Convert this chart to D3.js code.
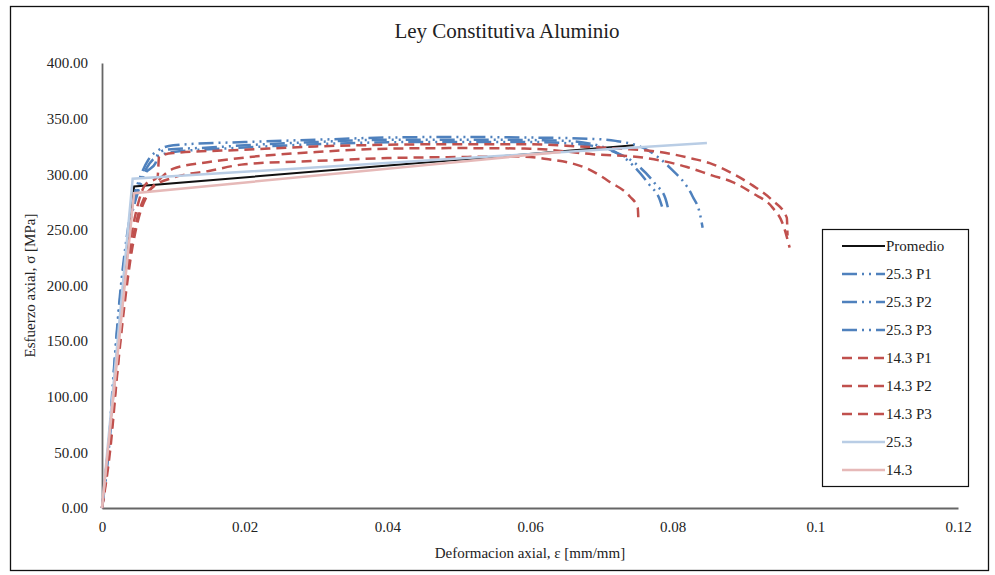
<!DOCTYPE html>
<html>
<head>
<meta charset="utf-8">
<title>Ley Constitutiva Aluminio</title>
<style>
  body { margin:0; background:#fff; }
  text { font-family:"Liberation Serif","Times New Roman",serif; fill:#222; }
</style>
</head>
<body>
<div id="chart"></div>
<script src="https://cdn.jsdelivr.net/npm/d3@7/dist/d3.min.js"></script>
<script>
// strain [mm/mm], stress [MPa]
var promedio = [[0,0],[0.0045,289],[0.0746,326]];

var b253p1 = [[0,0],[0.0008,45],[0.0015,110],[0.0025,190],[0.0035,245],[0.0045,280],[0.0055,300],[0.0065,313],[0.008,322],[0.01,326],[0.02,329],[0.03,331],[0.04,333],[0.05,333.5],[0.06,333],[0.068,332],[0.072,330],[0.0764,322],[0.0796,306],[0.0828,280],[0.0838,265],[0.0842,252]];
var b253p2 = [[0,0],[0.001,60],[0.002,150],[0.003,215],[0.004,258],[0.005,283],[0.006,300],[0.0075,310],[0.0078,318],[0.009,322],[0.015,324],[0.02,326],[0.03,329],[0.04,331],[0.055,331],[0.065,330],[0.07,325],[0.0736,313],[0.0768,290],[0.0782,277],[0.0785,271]];
var b253p3 = [[0,0],[0.0012,70],[0.0022,160],[0.0032,225],[0.0042,265],[0.0052,290],[0.0062,305],[0.0075,315],[0.01,320],[0.02,324],[0.03,327],[0.045,329],[0.06,329],[0.067,327],[0.071,322],[0.0745,311],[0.0776,291],[0.079,278],[0.0794,268]];

var r143p1 = [[0,0],[0.001,50],[0.002,115],[0.003,180],[0.004,230],[0.005,262],[0.006,280],[0.0075,290],[0.01,297],[0.015,303],[0.02,309],[0.03,312],[0.04,314.5],[0.05,315.5],[0.058,316],[0.062,314],[0.0684,304],[0.0712,293],[0.074,280],[0.0751,270],[0.0752,258]];
var r143p2 = [[0,0],[0.001,55],[0.002,125],[0.003,190],[0.004,240],[0.005,272],[0.006,290],[0.0078,298],[0.008,316],[0.01,319],[0.02,322],[0.03,325],[0.04,326.5],[0.05,327],[0.06,327],[0.067,325],[0.0725,323],[0.0782,320],[0.0828,314],[0.0852,310],[0.0883,301],[0.0912,290],[0.0939,277],[0.096,261],[0.0961,245]];
var r143p3 = [[0,0],[0.0012,55],[0.0022,125],[0.0032,185],[0.0042,232],[0.0052,262],[0.0065,283],[0.008,295],[0.01,305],[0.015,311],[0.02,315],[0.03,320],[0.04,323],[0.05,323.5],[0.06,323],[0.0688,318],[0.0758,315],[0.082,306.5],[0.0855,299],[0.0884,293],[0.0912,283],[0.094,270],[0.0954,256],[0.0964,234]];

var avg253 = [[0,0],[0.0043,296],[0.0848,328]];
var avg143 = [[0,0],[0.0045,283],[0.0643,320]];

var seriesNames = ["Promedio","25.3 P1","25.3 P2","25.3 P3","14.3 P1","14.3 P2","14.3 P3","25.3","14.3"];
var xTicks = [0,0.02,0.04,0.06,0.08,0.1,0.12];
var yTicks = [0,50,100,150,200,250,300,350,400];

var width = 995, height = 575;
var margin = {left:102, right:37, top:63, bottom:67};

var svg = d3.select('#chart').append('svg')
    .attr('width', width).attr('height', height);

// outer frame
svg.append('rect').attr('x',10.5).attr('y',6.5).attr('width',978).attr('height',564)
    .attr('fill','#fff').attr('stroke','#111').attr('stroke-width',1.3);

var x = d3.scaleLinear().domain([0,0.12]).range([margin.left, width-margin.right]);
var y = d3.scaleLinear().domain([0,400]).range([height-margin.bottom, margin.top]);

// axes
var yAxis = svg.append('g').attr('transform','translate('+margin.left+',0)')
    .call(d3.axisLeft(y).tickValues(yTicks).tickFormat(d3.format('.2f')).tickSize(0).tickPadding(14));
var xAxis = svg.append('g').attr('transform','translate(0,'+(height-margin.bottom)+')')
    .call(d3.axisBottom(x).tickValues(xTicks).tickFormat(d=>d===0?'0':String(+d.toFixed(2))).tickSize(0).tickPadding(13));
[yAxis, xAxis].forEach(function(g){
    g.selectAll('path').attr('stroke','#666').attr('stroke-width',1.8);
    g.selectAll('text').style('font-family','"Liberation Serif",serif').style('font-size','15px').attr('fill','#222');
});

var line = d3.line().x(d=>x(d[0])).y(d=>y(d[1]));
var curve = d3.line().x(d=>x(d[0])).y(d=>y(d[1])).curve(d3.curveMonotoneX);

var dashDot = '15,5,2,5,2,5', dashed = '10,6';
var styles = [
    {data:promedio, color:'#111', dash:null, w:2, fn:line},
    {data:b253p1, color:'#4F81BD', dash:dashDot, w:2.5, fn:curve},
    {data:b253p2, color:'#4F81BD', dash:dashDot, w:2.5, fn:curve},
    {data:b253p3, color:'#4F81BD', dash:dashDot, w:2.5, fn:curve},
    {data:r143p1, color:'#C0504D', dash:dashed, w:2.5, fn:curve},
    {data:r143p2, color:'#C0504D', dash:dashed, w:2.5, fn:curve},
    {data:r143p3, color:'#C0504D', dash:dashed, w:2.5, fn:curve},
    {data:avg253, color:'#B9CDE5', dash:null, w:2.5, fn:line},
    {data:avg143, color:'#E6B9B8', dash:null, w:2.5, fn:line}
];

svg.append('g').selectAll('path').data(styles).enter().append('path')
    .attr('d', d=>d.fn(d.data))
    .attr('fill','none')
    .attr('stroke', d=>d.color)
    .attr('stroke-width', d=>d.w)
    .attr('stroke-dasharray', d=>d.dash);

// title + axis titles
svg.append('text').attr('x',507).attr('y',38).attr('text-anchor','middle')
    .style('font-size','21px').text('Ley Constitutiva Aluminio');
svg.append('text').attr('x',(margin.left+width-margin.right)/2).attr('y',558).attr('text-anchor','middle')
    .style('font-size','15px').text('Deformacion axial,  \u03b5 [mm/mm]');
svg.append('text').attr('transform','translate(35,'+((margin.top+height-margin.bottom)/2)+') rotate(-90)')
    .attr('text-anchor','middle').style('font-size','15px').text('Esfuerzo axial, \u03c3 [MPa]');

// legend
var lg = svg.append('g').attr('transform','translate(822,229)');
lg.append('rect').attr('x',0.5).attr('y',0.5).attr('width',146).attr('height',257)
    .attr('fill','#fff').attr('stroke','#111').attr('stroke-width',1.2);
var item = lg.selectAll('g.item').data(styles).enter().append('g')
    .attr('transform',(d,i)=>'translate(0,'+(17+i*28)+')');
item.append('line').attr('x1',20).attr('x2',63).attr('y1',0).attr('y2',0)
    .attr('stroke',d=>d.color).attr('stroke-width',d=>d.w)
    .attr('stroke-dasharray',d=>d.dash);
item.append('text').attr('x',64).attr('y',5).style('font-size','15px')
    .text((d,i)=>seriesNames[i]);
</script>
</body>
</html>
